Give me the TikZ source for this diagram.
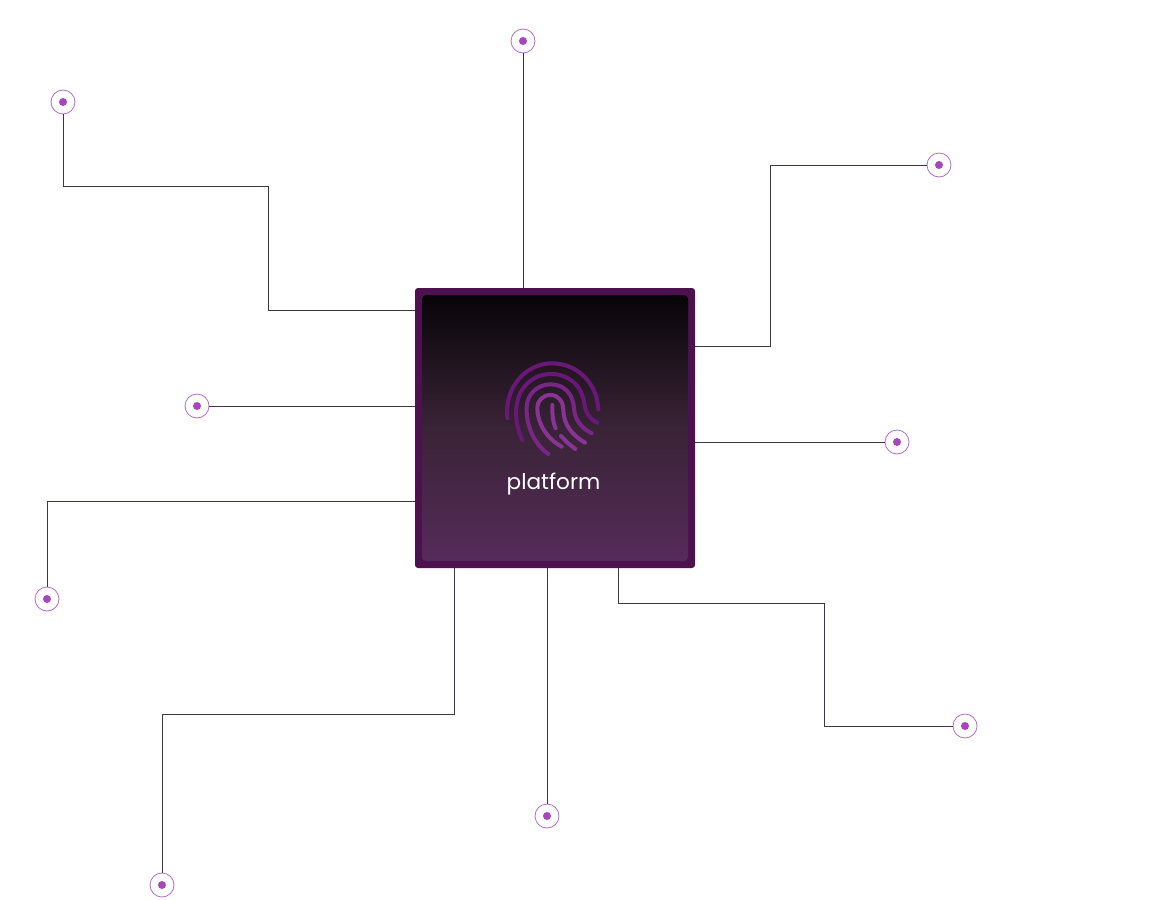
\documentclass[tikz,border=0pt]{standalone}
\usepackage{fontspec}
\setmainfont{Poppins}
\definecolor{wirec}{HTML}{3F3548}
\definecolor{ringc}{HTML}{B56BD0}
\definecolor{dotc}{HTML}{A845BE}
\definecolor{chipc}{HTML}{4D1150}
\definecolor{gradtop}{HTML}{070508}
\definecolor{gradmid}{HTML}{392336}
\definecolor{gradbot}{HTML}{562B5A}
\definecolor{fpa}{HTML}{6A1878}
\definecolor{fpb}{HTML}{7A2688}
\definecolor{fpc}{HTML}{883494}
\tikzset{
  pin/.style={circle,draw=ringc,line width=0.8pt,fill=white,minimum size=24pt,inner sep=0pt,
    path picture={\fill[dotc] (path picture bounding box.center) circle (4pt);}},
  wire/.style={draw=wirec,line width=0.8pt},
  chipouter/.style={rectangle,rounded corners=3pt,fill=chipc,minimum size=280pt,inner sep=0pt},
  chipinner/.style={rectangle,rounded corners=4pt,top color=gradtop,bottom color=gradbot,middle color=gradmid,minimum size=266pt,inner sep=0pt},
  chiplabel/.style={text=white,font=\fontsize{21.6}{22}\selectfont,inner sep=0pt},
  fp/.style={line width=4pt,line cap=round,line join=round}
}
\begin{document}
\begin{tikzpicture}[x=1pt,y=-1pt]
\useasboundingbox (0,0) rectangle (1155,899);
% pins
\node[pin] (p1) at (63,102) {};
\node[pin] (p2) at (523,41) {};
\node[pin] (p3) at (939,165) {};
\node[pin] (p4) at (197,406) {};
\node[pin] (p5) at (897,442) {};
\node[pin] (p6) at (47,599) {};
\node[pin] (p7) at (162,885) {};
\node[pin] (p8) at (547,816) {};
\node[pin] (p9) at (965,726) {};
% chip
\node[chipouter] (chip) at (555,428) {};
\node[chipinner] (inner) at (555,428) {};
% chip ports
\coordinate (c1) at (415,310);
\coordinate (c2) at (523,288);
\coordinate (c3) at (695,346);
\coordinate (c4) at (415,406);
\coordinate (c5) at (695,442);
\coordinate (c6) at (415,501);
\coordinate (c7) at (454,568);
\coordinate (c8) at (547,568);
\coordinate (c9) at (618,568);
% elbows
\coordinate (e1a) at (63,186);
\coordinate (e1b) at (268,186);
\coordinate (e1c) at (268,310);
\coordinate (e3a) at (770,165);
\coordinate (e3b) at (770,346);
\coordinate (e6a) at (47,501);
\coordinate (e7a) at (162,714);
\coordinate (e7b) at (454,714);
\coordinate (e9a) at (824,726);
\coordinate (e9b) at (824,603);
\coordinate (e9c) at (618,603);
% wires
\draw[wire] (p1) -- (e1a) -- (e1b) -- (e1c) -- (c1);
\draw[wire] (p2) -- (c2);
\draw[wire] (p3) -- (e3a) -- (e3b) -- (c3);
\draw[wire] (p4) -- (c4);
\draw[wire] (p5) -- (c5);
\draw[wire] (p6) -- (e6a) -- (c6);
\draw[wire] (p7) -- (e7a) -- (e7b) -- (c7);
\draw[wire] (p8) -- (c8);
\draw[wire] (p9) -- (e9a) -- (e9b) -- (e9c) -- (c9);
% fingerprint
\begin{scope}[shift={(490,350)},x=0.3333pt,y=-0.3333pt]
\draw[fp,fpa] (52,205) .. controls (42,110) and (110,40) .. (185,40) .. controls (262,40) and (322,100) .. (325,178);
\draw[fp,fpa] (97,270) .. controls (75,225) and (72,170) .. (90,130) .. controls (110,92) and (145,72) .. (182,72) .. controls (235,72) and (275,105) .. (283,160) .. controls (287,190) and (300,208) .. (322,218);
\draw[fp,fpb] (175,312) .. controls (130,280) and (108,225) .. (110,170) .. controls (112,130) and (145,103) .. (182,103) .. controls (225,103) and (250,135) .. (252,175) .. controls (254,210) and (275,235) .. (305,250);
\draw[fp,fpc] (215,290) .. controls (170,265) and (142,220) .. (142,175) .. controls (142,150) and (160,135) .. (182,135) .. controls (205,135) and (220,155) .. (220,180) .. controls (220,225) and (250,258) .. (285,278);
\draw[fp,fpc] (187,165) .. controls (187,195) and (188,215) .. (197,235);
\draw[fp,fpc] (213,258) -- (232,278) -- (256,297);
\end{scope}
\node[chiplabel] (lab) at (553.5,484) {platform};
\end{tikzpicture}
\end{document}
